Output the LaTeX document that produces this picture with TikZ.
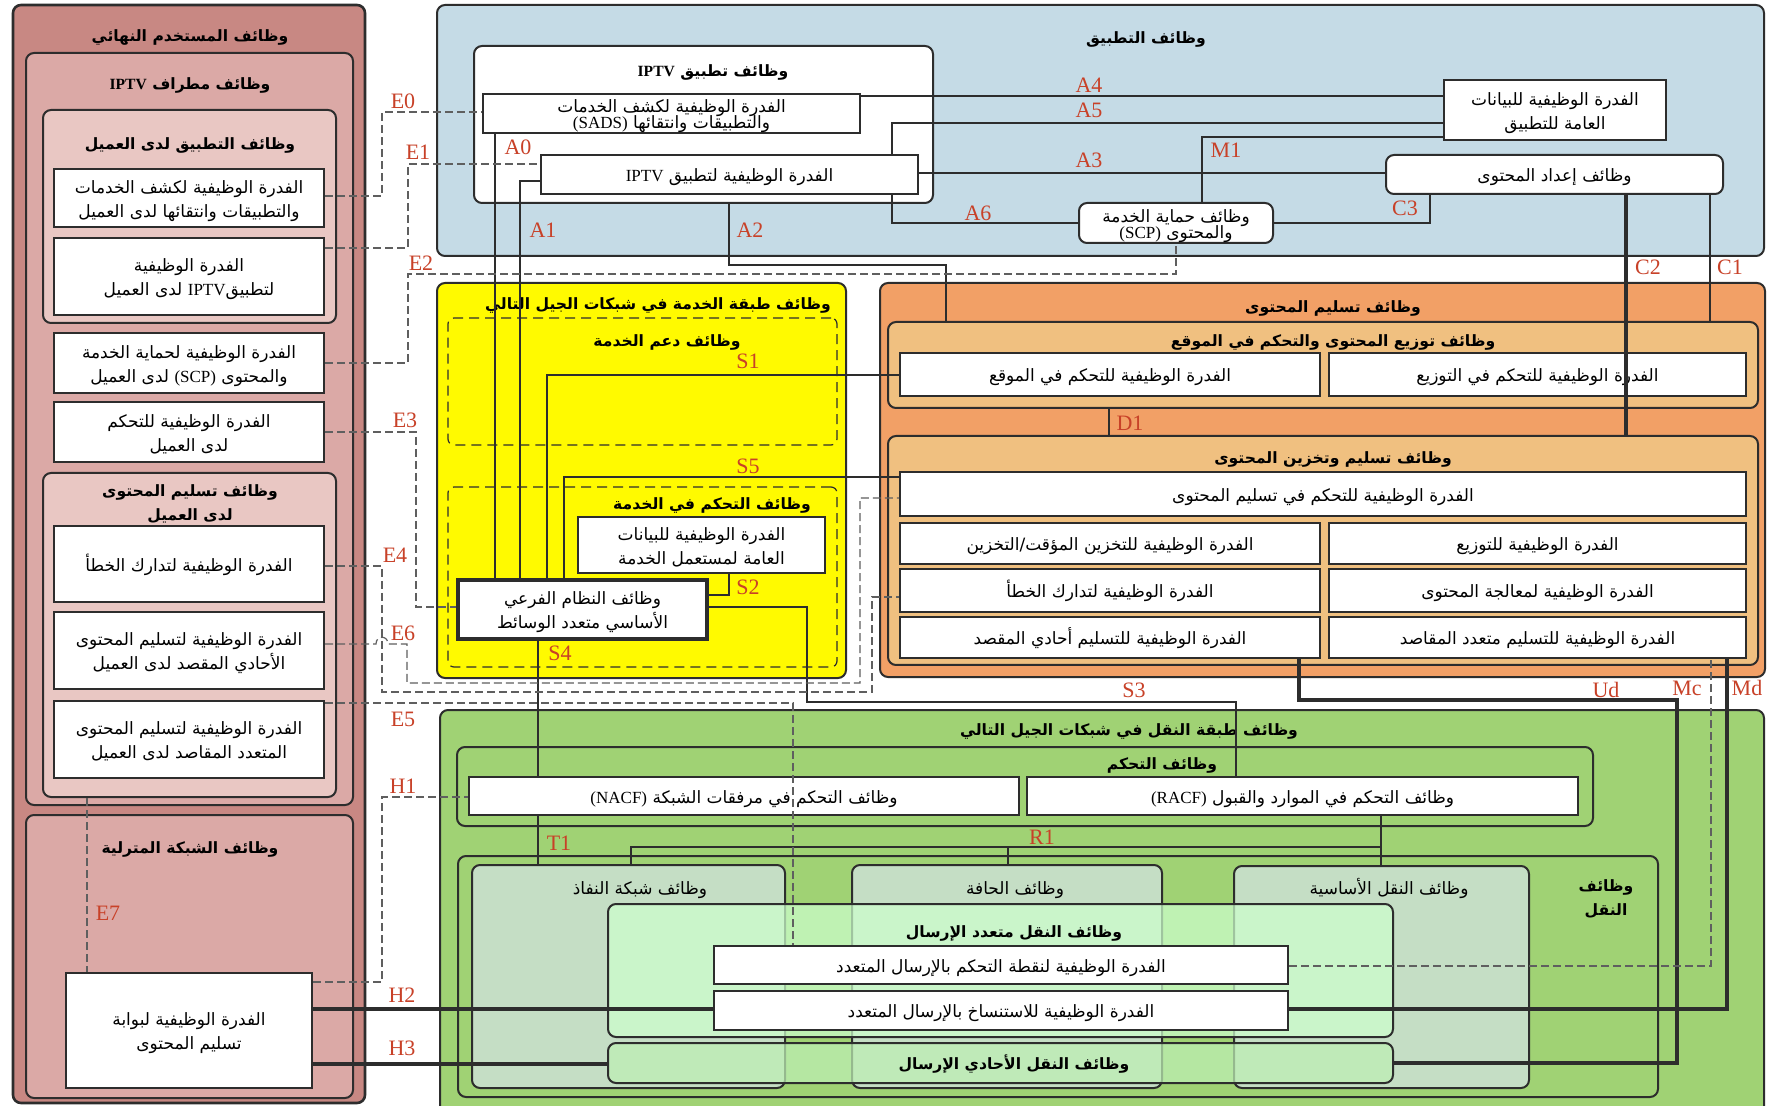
\documentclass[tikz,border=0pt]{standalone}
\usepackage{fontspec}
\setmainfont{Liberation Serif}
\newfontfamily\arabicfont[Script=Arabic]{DejaVu Sans}
\TeXXeTstate=1
\usetikzlibrary{fit}
\definecolor{linegray}{RGB}{45,45,45}
\definecolor{dashgray}{RGB}{95,95,95}
\definecolor{labelred}{RGB}{200,65,40}
\definecolor{euback}{RGB}{200,136,131}
\definecolor{termback}{RGB}{219,169,166}
\definecolor{clientback}{RGB}{233,199,195}
\definecolor{appback}{RGB}{197,219,230}
\definecolor{svcback}{RGB}{255,250,0}
\definecolor{cdback}{RGB}{242,160,102}
\definecolor{cdinback}{RGB}{240,192,128}
\definecolor{trback}{RGB}{160,210,116}
\definecolor{netback}{RGB}{197,222,197}
\definecolor{mcback}{RGB}{204,255,204}
\definecolor{ucback}{RGB}{190,240,180}
\newcommand{\artext}[1]{\raisebox{-0.18em}[0.8em][0.3em]{\arabicfont\beginR #1\endR}}
\newcommand{\lat}[1]{\beginL{\rmfamily #1}\endL{}}

\begin{document}
\lineskiplimit=-50pt\relax
\begin{tikzpicture}[x=0.5pt, y=-0.5pt,
    grp/.style={draw=linegray, line width=1pt, rounded corners=4pt, inner sep=0pt},
    dgrp/.style={draw=linegray, line width=0.6pt, dash pattern=on 5pt off 3pt, rounded corners=3pt, inner sep=0pt},
    box/.style={draw=linegray, line width=1pt, fill=white, inner sep=0pt},
    rbox/.style={box, rounded corners=4pt},
    btext/.style={align=center, inner sep=0pt, font=\fontsize{8.5}{12}\selectfont},
    tight/.style={btext, font=\fontsize{8.5}{8}\selectfont},
    ttl/.style={align=center, inner sep=0pt, font=\fontsize{7.8}{11}\selectfont\bfseries},
    sub/.style={align=center, inner sep=0pt, font=\fontsize{8.5}{12}\selectfont},
    lbl/.style={text=labelred, inner sep=0pt, font=\fontsize{11}{11}\selectfont},
    conn/.style={draw=linegray, line width=1pt},
    heavy/.style={draw=linegray, line width=2.3pt},
    iface/.style={draw=dashgray, line width=0.6pt, dash pattern=on 4pt off 2pt}
]
\useasboundingbox[fill=white] (0,0) rectangle (1767,1106);

% End-user functions
\node[grp, fill=euback, line width=1.3pt, fit={(13,5)(365,1103)}] (eu) {};
\node[ttl] (eutitle) at (190,35) {\artext{وظائف المستخدم النهائي}};
\node[grp, fill=termback, fit={(26,53)(353,805)}] (term) {};
\node[ttl] (termtitle) at (190,83) {\artext{وظائف مطراف \lat{IPTV}}};
\node[grp, fill=clientback, fit={(43,110)(336,323)}] (capp) {};
\node[ttl] (capptitle) at (190,143) {\artext{وظائف التطبيق لدى العميل}};
\node[grp, fill=clientback, fit={(43,473)(336,797)}] (cdel) {};
\node[ttl, font=\fontsize{7.8}{12}\selectfont\bfseries] (cdeltitle) at (190,502) {\artext{وظائف تسليم المحتوى}\\\artext{لدى العميل}};
\node[grp, fill=termback, fit={(26,815)(353,1098)}] (home) {};
\node[ttl] (hometitle) at (190,847) {\artext{وظائف الشبكة المترلية}};

\node[box, fit={(54,169)(324,227)}] (c1) {};
\node[btext] (c1text) at (c1) {\artext{الفدرة الوظيفية لكشف الخدمات}\\\artext{والتطبيقات وانتقائها لدى العميل}};
\node[box, fit={(54,238)(324,315)}] (c2) {};
\node[btext] (c2text) at (c2) {\artext{الفدرة الوظيفية}\\\artext{لتطبيق\lat{IPTV} لدى العميل}};
\node[box, fit={(54,333)(324,393)}] (c3) {};
\node[btext] (c3text) at (c3) {\artext{الفدرة الوظيفية لحماية الخدمة}\\\artext{والمحتوى \lat{(SCP)} لدى العميل}};
\node[box, fit={(54,402)(324,462)}] (c4) {};
\node[btext] (c4text) at (c4) {\artext{الفدرة الوظيفية للتحكم}\\\artext{لدى العميل}};
\node[box, fit={(54,526)(324,602)}] (c5) {};
\node[btext] (c5text) at (c5) {\artext{الفدرة الوظيفية لتدارك الخطأ}};
\node[box, fit={(54,612)(324,689)}] (c6) {};
\node[btext] (c6text) at (c6) {\artext{الفدرة الوظيفية لتسليم المحتوى}\\\artext{الأحادي المقصد لدى العميل}};
\node[box, fit={(54,701)(324,778)}] (c7) {};
\node[btext] (c7text) at (c7) {\artext{الفدرة الوظيفية لتسليم المحتوى}\\\artext{المتعدد المقاصد لدى العميل}};
\node[box, fit={(66,973)(312,1088)}] (gw) {};
\node[btext] (gwtext) at (gw) {\artext{الفدرة الوظيفية لبوابة}\\\artext{تسليم المحتوى}};

% Application functions
\node[grp, fill=appback, fit={(437,5)(1764,256)}] (app) {};
\node[ttl] (apptitle) at (1146,37) {\artext{وظائف التطبيق}};
\node[grp, fill=white, fit={(474,46)(933,203)}] (iptvapp) {};
\node[ttl] (iptvapptitle) at (713,70) {\artext{وظائف تطبيق \lat{IPTV}}};
\node[box, fit={(483,94)(860,133)}] (sads) {};
\node[tight] (sadstext) at (sads) {\artext{الفدرة الوظيفية لكشف الخدمات}\\\artext{والتطبيقات وانتقائها \lat{(SADS)}}};
\node[box, fit={(541,155)(918,194)}] (iptvcap) {};
\node[btext] (iptvcaptext) at (iptvcap) {\artext{الفدرة الوظيفية لتطبيق \lat{IPTV}}};
\node[box, fit={(1444,80)(1666,140)}] (appdata) {};
\node[btext] (appdatatext) at (appdata) {\artext{الفدرة الوظيفية للبيانات}\\\artext{العامة للتطبيق}};
\node[rbox, fit={(1386,155)(1723,194)}] (prep) {};
\node[btext] (preptext) at (prep) {\artext{وظائف إعداد المحتوى}};
\node[rbox, fit={(1079,203)(1273,243)}] (scp) {};
\node[tight] (scptext) at (scp) {\artext{وظائف حماية الخدمة}\\\artext{والمحتوى \lat{(SCP)}}};

% Service stratum functions
\node[grp, fill=svcback, fit={(437,283)(846,678)}] (svc) {};
\node[ttl] (svctitle) at (658,303) {\artext{وظائف طبقة الخدمة في شبكات الجيل التالي}};
\node[dgrp, fit={(448,318)(837,445)}] (ssup) {};
\node[ttl] (ssuptitle) at (667,340) {\artext{وظائف دعم الخدمة}};
\node[dgrp, fit={(448,487)(837,667)}] (sctl) {};
\node[ttl] (sctltitle) at (712,503) {\artext{وظائف التحكم في الخدمة}};
\node[box, fit={(578,517)(825,573)}] (profile) {};
\node[btext] (profiletext) at (profile) {\artext{الفدرة الوظيفية للبيانات}\\\artext{العامة لمستعمل الخدمة}};
\node[box, line width=2.3pt, fit={(458,580)(707,639)}] (mms) {};
\node[btext] (mmstext) at (mms) {\artext{وظائف النظام الفرعي}\\\artext{الأساسي متعدد الوسائط}};

% Content delivery functions
\node[grp, fill=cdback, fit={(880,283)(1765,677)}] (cd) {};
\node[ttl] (cdtitle) at (1333,306) {\artext{وظائف تسليم المحتوى}};
\node[grp, fill=cdinback, fit={(888,322)(1758,408)}] (cdl) {};
\node[ttl] (cdltitle) at (1333,340) {\artext{وظائف توزيع المحتوى والتحكم في الموقع}};
\node[box, fit={(900,353)(1320,396)}] (loc) {};
\node[btext] (loctext) at (loc) {\artext{الفدرة الوظيفية للتحكم في الموقع}};
\node[box, fit={(1329,353)(1746,396)}] (dist) {};
\node[btext] (disttext) at (dist) {\artext{الفدرة الوظيفية للتحكم في التوزيع}};
\node[grp, fill=cdinback, fit={(888,436)(1758,665)}] (cds) {};
\node[ttl] (cdstitle) at (1333,457) {\artext{وظائف تسليم وتخزين المحتوى}};
\node[box, fit={(900,472)(1746,516)}] (cdc) {};
\node[btext] (cdctext) at (cdc) {\artext{الفدرة الوظيفية للتحكم في تسليم المحتوى}};
\node[box, fit={(900,523)(1320,564)}] (cache) {};
\node[btext] (cachetext) at (cache) {\artext{الفدرة الوظيفية للتخزين المؤقت/التخزين}};
\node[box, fit={(1329,523)(1746,564)}] (deliv) {};
\node[btext] (delivtext) at (deliv) {\artext{الفدرة الوظيفية للتوزيع}};
\node[box, fit={(900,569)(1320,612)}] (errrec) {};
\node[btext] (errrectext) at (errrec) {\artext{الفدرة الوظيفية لتدارك الخطأ}};
\node[box, fit={(1329,569)(1746,612)}] (proc) {};
\node[btext] (proctext) at (proc) {\artext{الفدرة الوظيفية لمعالجة المحتوى}};
\node[box, fit={(900,617)(1320,658)}] (uni) {};
\node[btext] (unitext) at (uni) {\artext{الفدرة الوظيفية للتسليم أحادي المقصد}};
\node[box, fit={(1329,617)(1746,658)}] (multi) {};
\node[btext] (multitext) at (multi) {\artext{الفدرة الوظيفية للتسليم متعدد المقاصد}};

% Transport stratum functions
\node[grp, fill=trback, fit={(440,710)(1764,1115)}] (tr) {};
\node[ttl] (trtitle) at (1129,729) {\artext{وظائف طبقة النقل في شبكات الجيل التالي}};
\node[grp, fit={(457,747)(1593,826)}] (trc) {};
\node[ttl] (trctitle) at (1162,763) {\artext{وظائف التحكم}};
\node[box, fit={(469,777)(1019,815)}] (nacf) {};
\node[btext] (nacftext) at (nacf) {\artext{وظائف التحكم في مرفقات الشبكة \lat{(NACF)}}};
\node[box, fit={(1027,777)(1578,815)}] (racf) {};
\node[btext] (racftext) at (racf) {\artext{وظائف التحكم في الموارد والقبول \lat{(RACF)}}};
\node[grp, fit={(458,856)(1658,1097)}] (trf) {};
\node[ttl, font=\fontsize{7.8}{12}\selectfont\bfseries] (trftitle) at (1606,897) {\artext{وظائف}\\\artext{النقل}};
\node[grp, fill=netback, fit={(472,865)(785,1088)}] (acc) {};
\node[sub] (acctitle) at (640,887) {\artext{وظائف شبكة النفاذ}};
\node[grp, fill=netback, fit={(852,865)(1162,1088)}] (edge) {};
\node[sub] (edgetitle) at (1015,887) {\artext{وظائف الحافة}};
\node[grp, fill=netback, fit={(1234,866)(1529,1088)}] (core) {};
\node[sub] (coretitle) at (1389,887) {\artext{وظائف النقل الأساسية}};
\node[grp, fill=mcback, fill opacity=0.72, fit={(608,904)(1393,1037)}] (mcast) {};
\node[ttl] (mcasttitle) at (1014,931) {\artext{وظائف النقل متعدد الإرسال}};
\node[box, fit={(714,946)(1288,984)}] (mcp) {};
\node[btext] (mcptext) at (mcp) {\artext{الفدرة الوظيفية لنقطة التحكم بالإرسال المتعدد}};
\node[box, fit={(714,991)(1288,1030)}] (mcr) {};
\node[btext] (mcrtext) at (mcr) {\artext{الفدرة الوظيفية للاستنساخ بالإرسال المتعدد}};
\node[grp, fill=ucback, fill opacity=0.72, fit={(608,1043)(1393,1083)}] (ucast) {};
\node[ttl] (ucasttitle) at (1014,1063) {\artext{وظائف النقل الأحادي الإرسال}};

% Reference points in the application stratum
\draw[conn] (sads.east |- 0,96) -- (appdata.west |- 0,96);
\draw[conn] (iptvcap.north -| 892,0) |- (appdata.west |- 0,123);
\draw[conn] (iptvcap.east |- 0,173) -- (prep.west |- 0,173);
\draw[conn] (iptvcap.south -| 892,0) |- (scp.west |- 0,223);
\draw[conn] (appdata.west |- 0,137) -| (scp.north -| 1202,0);
\draw[conn] (scp.east |- 0,223) -| (prep.south -| 1430,0);
\draw[heavy] (prep.south -| 1626,0) -- (cds.north -| 1626,0);
\draw[conn] (prep.south -| 1710,0) -- (cdl.north -| 1710,0);
\draw[conn] (iptvapp.south -| 729,0) |- (946,265) -- (cdl.north -| 946,0);
\draw[conn] (sads.south -| 495,0) -- (mms.north -| 495,0);
\draw[conn] (iptvcap.west |- 0,181) -| (mms.north -| 520,0);

% Reference points in the service stratum
\draw[conn] (mms.north -| 547,0) |- (loc.west |- 0,375);
\draw[conn] (mms.north -| 564,0) |- (cdc.west |- 0,477);
\draw[conn] (profile.south -| 729,0) |- (mms.east |- 0,595);
\draw[conn] (mms.east |- 0,607) -| (807,702) -| (racf.north -| 1236,0);
\draw[conn] (mms.south -| 538,0) -- (nacf.north -| 538,0);
\draw[conn] (cdl.south -| 1109,0) -- (cds.north -| 1109,0);

% Reference points in the transport stratum
\coordinate (r1) at (1381,847);
\draw[conn] (nacf.south -| 538,0) -- (acc.north -| 538,0);
\draw[conn] (racf.south -| 1381,0) -- (core.north -| 1381,0);
\draw[conn] (acc.north -| 631,0) |- (r1);
\draw[conn] (edge.north -| 1008,0) -- (1008,0 |- r1);
\draw[heavy] (uni.south -| 1299,0) |- (1677,700) |- (ucast.east |- 0,1063);
\draw[heavy] (mcr.east |- 0,1009) -| (multi.south -| 1727,0);
\draw[iface] (mcp.east |- 0,966) -| (multi.south -| 1711,0);

% End-user interfaces
\draw[iface] (c1.east |- 0,196) -| (382,112) -- (sads.west |- 0,112);
\draw[iface] (c2.east |- 0,248) -| (408,164) -- (iptvcap.west |- 0,164);
\draw[iface] (c3.east |- 0,363) -| (408,274) -| (scp.south);
\draw[iface] (c4.east |- 0,432) -| (416,607) -- (mms.west |- 0,607);
\draw[iface] (c5.east |- 0,566) -| (382,692) -| (872,597) -- (errrec.west |- 0,597);
\draw[iface] (c6.east |- 0,644) -- (376,644) .. controls (376,635) and (388,635) .. (388,644)
    -| (407,683) -| (860,498) -- (cdc.west |- 0,498);
\draw[iface] (c7.east |- 0,703) -| (mcp.north -| 793,0);
\draw[iface] (gw.east |- 0,982) -| (382,797) -- (nacf.west |- 0,797);
\draw[iface] (cdel.south -| 87,0) -- (gw.north -| 87,0);
\draw[heavy] (gw.east |- 0,1009) -- (mcr.west |- 0,1009);
\draw[heavy] (gw.east |- 0,1064) -- (ucast.west |- 0,1064);

% Labels
\foreach \name/\x/\y in {E0/403/101, E1/418/152, E2/421/263, E3/405/420, E4/395/555,
    E6/403/633, E5/403/719, H1/403/786, E7/108/913, H2/402/995, H3/402/1048,
    A0/518/147, A1/543/230, A2/750/230, A4/1089/85, A5/1089/110, A3/1089/160,
    A6/978/213, M1/1226/150, C3/1405/208, C2/1648/267, C1/1730/267,
    S1/748/361, S5/748/466, S2/748/587, S4/560/653, S3/1134/690, D1/1130/423,
    T1/559/843, R1/1042/837, Ud/1606/690, Mc/1687/688, Md/1747/688}
  \node[lbl] (l\name) at (\x,\y) {\name};

\end{tikzpicture}
\end{document}
